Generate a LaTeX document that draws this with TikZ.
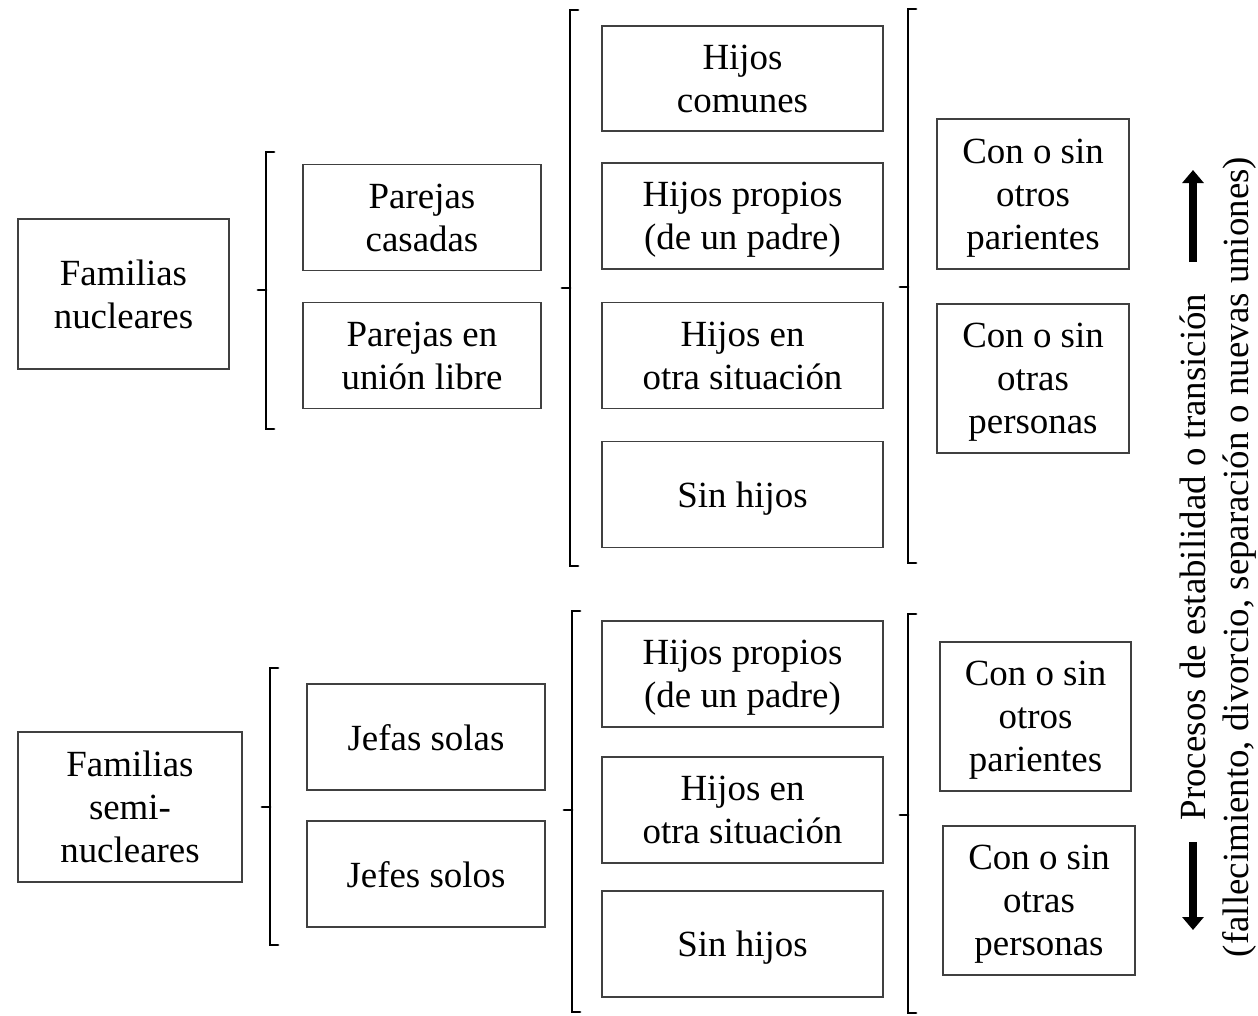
\documentclass[tikz,border=0pt]{standalone}
\usepackage{fontspec}
\setmainfont{Liberation Serif}
\usetikzlibrary{arrows.meta}
\begin{document}
\begin{tikzpicture}[x=0.02cm,y=-0.02cm]
% Estilos
\tikzstyle{caja}=[draw=black!75,line width=1pt,fill=white,align=center,inner sep=2pt,
  font=\fontsize{21}{24.5}\selectfont,minimum height=2.12cm,text depth=-1pt]
\tikzstyle{llave}=[line width=1.6pt,line cap=round]
\tikzstyle{flecha}=[line width=4pt,-{Triangle[width=0.42cm,length=0.26cm]}]
\tikzstyle{leyenda}=[align=center,rotate=90,font=\fontsize{21}{24.5}\selectfont]
% Llave : x, arriba, abajo, medio
\def\llave#1#2#3#4{\draw[llave] ({#1+8},#2)--(#1,#2)--(#1,#3)--({#1+8},#3);
  \draw[llave] (#1,#4)--({#1-8},#4);}
\useasboundingbox (0,0) rectangle (1258,1015);
% Cajas, familias nucleares
\node[caja,minimum width=4.22cm,minimum height=3cm] (FN) at (123.5,294) {Familias\\nucleares};
\node[caja,minimum width=4.76cm] (PC) at (422,217.5) {Parejas\\casadas};
\node[caja,minimum width=4.76cm] (PU) at (422,355.5) {Parejas en\\unión libre};
\node[caja,minimum width=5.62cm,minimum height=2.1cm] (HC) at (742.5,78.5) {Hijos\\comunes};
\node[caja,minimum width=5.62cm] (HP) at (742.5,216) {Hijos propios\\(de un padre)};
\node[caja,minimum width=5.62cm] (HO) at (742.5,355.5) {Hijos en\\otra situación};
\node[caja,minimum width=5.62cm] (SH) at (742.5,494.5) {Sin hijos};
\node[caja,minimum width=3.84cm,minimum height=3cm] (CP) at (1033,194) {Con o sin\\otros\\parientes};
\node[caja,minimum width=3.84cm,minimum height=2.98cm] (CO) at (1033,378.5) {Con o sin\\otras\\personas};
% Cajas, familias seminucleares
\node[caja,minimum width=4.48cm,minimum height=3cm] (FS) at (130,807) {Familias\\semi-\\nucleares};
\node[caja,minimum width=4.76cm] (JA) at (426,737) {Jefas solas};
\node[caja,minimum width=4.76cm] (JO) at (426,874) {Jefes solos};
\node[caja,minimum width=5.62cm] (HPb) at (742.5,674) {Hijos propios\\(de un padre)};
\node[caja,minimum width=5.62cm] (HOb) at (742.5,810) {Hijos en\\otra situación};
\node[caja,minimum width=5.62cm] (SHb) at (742.5,944) {Sin hijos};
\node[caja,minimum width=3.82cm,minimum height=2.98cm] (CPb) at (1035.5,716.5) {Con o sin\\otros\\parientes};
\node[caja,minimum width=3.84cm,minimum height=2.98cm] (COb) at (1039,900.5) {Con o sin\\otras\\personas};
% Llaves
\llave{266}{152}{429}{290}
\llave{570}{10}{566}{288}
\llave{908}{9}{563}{287}
\llave{270}{668}{945}{807}
\llave{572}{611}{1012}{810}
\llave{908}{614}{1013}{815}
% Leyenda
\node[leyenda] (L) at (1218,557) {Procesos de estabilidad o transición\\(fallecimiento, divorcio, separación o nuevas uniones)};
\coordinate (Aa) at (1193,262);
\coordinate (Ab) at (1193,170);
\coordinate (Ba) at (1193,842);
\coordinate (Bb) at (1193,930);
\draw[flecha] (Aa)--(Ab);
\draw[flecha] (Ba)--(Bb);
\end{tikzpicture}
\end{document}
